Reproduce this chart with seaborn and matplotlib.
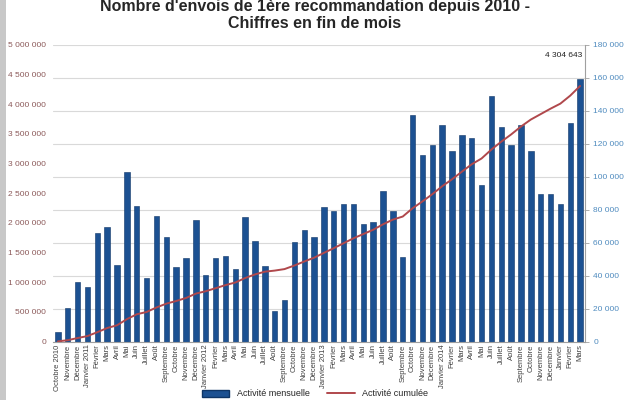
import matplotlib
matplotlib.use("Agg")
import matplotlib.pyplot as plt
from matplotlib.patches import Patch, Rectangle
from matplotlib.lines import Line2D
from matplotlib.ticker import FuncFormatter
import pandas as pd
import seaborn as sns

sns.set_style("white")
plt.rcParams["font.family"] = ["Liberation Sans", "DejaVu Sans"]

# mois (axe des x)
mois = ["Octobre 2010", "Novembre", "Décembre",
        "Janvier 2011", "Février", "Mars", "Avril", "Mai", "Juin", "Juillet", "Août",
        "Septembre", "Octobre", "Novembre", "Décembre",
        "Janvier 2012", "Février", "Mars", "Avril", "Mai", "Juin", "Juillet", "Août",
        "Septembre", "Octobre", "Novembre", "Décembre",
        "Janvier 2013", "Février", "Mars", "Avril", "Mai", "Juin", "Juillet", "Août",
        "Septembre", "Octobre", "Novembre", "Décembre",
        "Janvier 2014", "Février", "Mars", "Avril", "Mai", "Juin", "Juillet", "Août",
        "Septembre", "Octobre", "Novembre", "Décembre",
        "Janvier", "Février", "Mars"]

# activité mensuelle (axe de droite)
mensuelle = [5600, 20200, 35900, 32900, 65900, 69700, 46500, 103000, 82000, 38600,
             76200, 63600, 45000, 50700, 73500, 40400, 50700, 51900, 44000, 75300,
             61000, 46000, 18400, 25300, 60400, 67500, 63600, 81400, 79400, 83200,
             83200, 71300, 72300, 91500, 79400, 51500, 137400, 113100, 119400, 131300,
             115800, 125500, 123500, 95200, 148700, 130300, 119400, 131300, 115800, 89500,
             89500, 83200, 132500, 159000]

# activité cumulée (axe de gauche)
cumulee = [5600, 25800, 61800, 94700, 160600, 230300, 276800, 379800, 461800, 500400,
           576600, 640200, 685200, 735900, 809400, 849800, 900500, 952400, 996400, 1071700,
           1132700, 1178700, 1197100, 1222400, 1282800, 1350300, 1413900, 1495300, 1574700, 1657900,
           1741100, 1812400, 1884700, 1976200, 2055600, 2107100, 2246500, 2361600, 2483000, 2616300,
           2734100, 2861600, 2987100, 3084300, 3235000, 3367300, 3488700, 3622000, 3739800, 3831300,
           3922800, 4008000, 4142500, 4304643]

df = pd.DataFrame({"pos": range(len(mois)), "mensuelle": mensuelle, "cumulee": cumulee})

BLEU = "#1C5192"
ROUGE = "#B0484C"

fig = plt.figure(figsize=(6.3, 4), dpi=100)
ax = fig.add_axes([53/630, 1 - 341.7/400, (585 - 53)/630, (341.7 - 44.7)/400])

# barres sur l'axe principal
sns.barplot(data=df, x="pos", y="mensuelle", color=BLEU, width=0.55,
            edgecolor="#0E3566", linewidth=0.4, saturation=1, ax=ax, zorder=2)
ax.set_ylim(0, 180000)
ax.set_yticks(range(0, 180001, 20000))
ax.yaxis.grid(True, color="#D9D9D9", linewidth=0.8, zorder=0)
ax.set_axisbelow(True)
ax.set_xlim(-0.5, len(mois) - 0.5)
ax.set_xticks(range(len(mois)))
ax.set_xticklabels(mois, rotation=90, fontsize=5.5, color="#404040")
ax.set_xlabel("")
ax.set_ylabel("")

fmt = FuncFormatter(lambda v, p: f"{int(v):,}".replace(",", " "))

# courbe cumulée sur l'axe jumeau
ax2 = ax.twinx()
sns.lineplot(data=df, x="pos", y="cumulee", color=ROUGE, linewidth=1.4, ax=ax2)
ax2.set_ylim(0, 5000000)
ax2.set_yticks(range(0, 5000001, 500000))
ax2.set_ylabel("")
ax2.set_xlabel("")

# échelle des barres à droite, échelle cumulée à gauche
ax.yaxis.tick_right()
ax.yaxis.set_major_formatter(fmt)
ax.tick_params(axis="y", which="both", left=False, labelleft=False, right=True, labelright=True,
               labelsize=6, labelcolor="#4F8BBF", color="#A0A0A0", length=3, width=0.6, pad=3)
ax.tick_params(axis="x", length=0, pad=2)

ax2.yaxis.tick_left()
ax2.yaxis.set_major_formatter(fmt)
ax2.tick_params(axis="y", which="both", right=False, labelright=False, left=True, labelleft=True,
                labelsize=6, labelcolor="#8C5A5A", length=0, pad=5)

for s in ["top", "left"]:
    ax.spines[s].set_visible(False)
for s in ["right", "bottom"]:
    ax.spines[s].set_color("#A0A0A0")
    ax.spines[s].set_linewidth(0.8)
for s in ["top", "left", "right", "bottom"]:
    ax2.spines[s].set_visible(False)

ax2.text(len(mois) - 0.8, 4820000, "4 304 643", ha="right", va="center",
         fontsize=6, color="#222222")

fig.text(0.5, 1 - 31/400, "Nombre d'envois de 1ère recommandation depuis 2010 -\nChiffres en fin de mois",
         ha="center", va="bottom", fontsize=11.5, fontweight="bold", linespacing=1.15)

handles = [Patch(facecolor=BLEU, edgecolor="#0E3566"),
           Line2D([0], [0], color=ROUGE, linewidth=1.4)]
fig.legend(handles, ["Activité mensuelle", "Activité cumulée"], loc="center",
           bbox_to_anchor=(0.5, 1 - 394/400), ncol=2, frameon=False, fontsize=6.5,
           handlelength=3, columnspacing=2)

fig.patches.append(Rectangle((0, 0), 6/630, 1, transform=fig.transFigure,
                             facecolor="#C8C8C8", edgecolor="none"))

fig.savefig("out.png", dpi=100)
